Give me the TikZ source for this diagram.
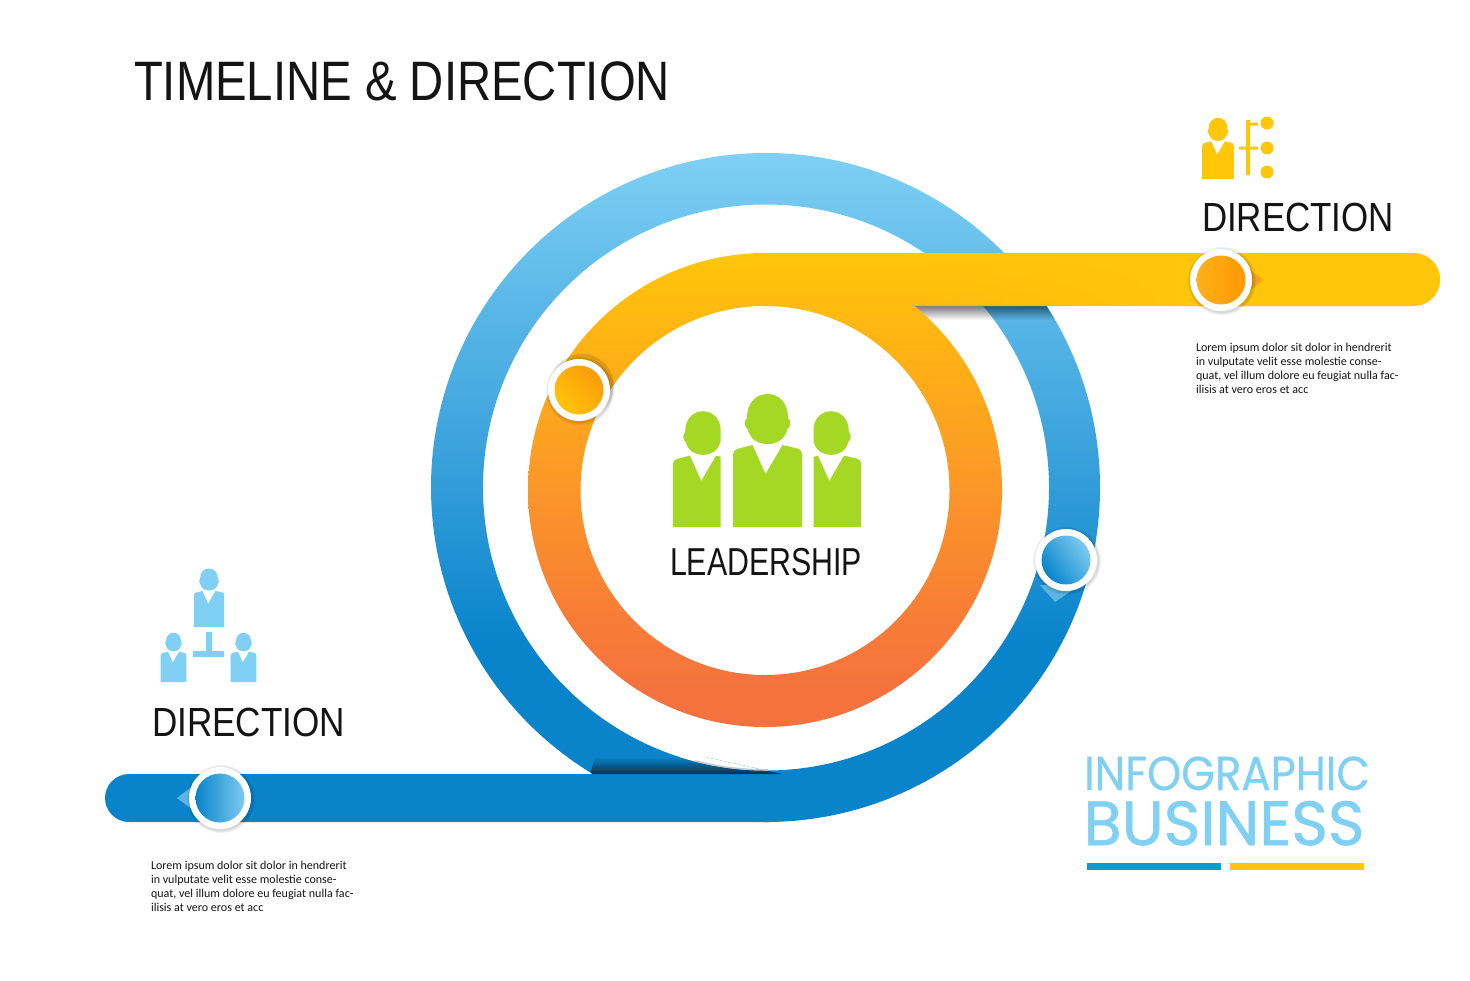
\documentclass[tikz,border=0pt]{standalone}
\usepackage{fontspec}
\usepackage{graphicx}
\usetikzlibrary{fadings}
\newfontfamily\headfont{Liberation Sans}
\newfontfamily\logofont[FakeBold=0.5]{Poppins}
\newfontfamily\logofontb[FakeBold=1]{Poppins}
\newfontfamily\bodyfont{Carlito}
\definecolor{cblue}{HTML}{0984CB}
\definecolor{clight}{HTML}{7FD0F3}
\definecolor{cyel}{HTML}{FFC60A}
\definecolor{cgreen}{HTML}{A4D824}
\definecolor{cnavy}{HTML}{02304F}
\definecolor{ctext}{HTML}{141414}
\definecolor{bb}{HTML}{3BA2DC}
\definecolor{bc}{HTML}{5BB8E8}
\definecolor{oa}{HTML}{F5723E}
\definecolor{ob}{HTML}{F88034}
\definecolor{oc}{HTML}{FB9629}
\definecolor{od}{HTML}{FFB214}
\definecolor{barlow}{HTML}{FFBB0F}
\definecolor{tipo}{HTML}{F8A01E}
\definecolor{tipb}{HTML}{5DB5E5}
\definecolor{mya}{HTML}{FFC30A}
\definecolor{myb}{HTML}{FB9C0A}
\definecolor{moa}{HTML}{FDB01B}
\definecolor{mob}{HTML}{FF9800}
\definecolor{mbl}{HTML}{7CCBF0}
\definecolor{mbm}{HTML}{2A98D8}
\definecolor{ubar}{HTML}{0C9BD9}
\pgfdeclareverticalshading{blueV}{100bp}{color(0bp)=(cblue); color(25bp)=(cblue); color(38.6bp)=(cblue); color(52.8bp)=(bb); color(64bp)=(bc); color(75bp)=(clight); color(100bp)=(clight)}
\pgfdeclareverticalshading{orangeV}{100bp}{color(0bp)=(oa); color(25bp)=(oa); color(29bp)=(oa); color(38.4bp)=(ob); color(50bp)=(oc); color(64.8bp)=(od); color(75bp)=(cyel); color(100bp)=(cyel)}
\tikzfading[name=fadeDown, top color=transparent!45, bottom color=transparent!100]
\tikzfading[name=fadeRight, left color=transparent!100, right color=transparent!0]
\tikzset{
  x=0.5pt, y=-0.5pt,
  txt/.style={inner sep=0pt, outer sep=0pt, anchor=base west, text=ctext},
  para/.style={inner sep=0pt, outer sep=0pt, anchor=north west, align=left, text=ctext,
     font=\bodyfont\fontsize{6.02pt}{7pt}\selectfont},
  ring/.style={circle, minimum size=31pt, inner sep=0pt, fill=white},
  core/.style={circle, minimum size=24.5pt, inner sep=0pt},
  person/.pic={
    \fill (-34.5,0) -- (-34.5,-72) .. controls (-34.5,-77) and (-31,-78) .. (-27,-79)
       -- (-15,-82) -- (-2,-53) -- (15,-82) -- (28,-79)
       .. controls (32,-78) and (34.5,-77) .. (34.5,-72) -- (34.5,0) -- cycle;
    \fill (-20.5,-109) .. controls (-20.5,-125) and (-11,-133) .. (0,-133)
       .. controls (11,-133) and (20.5,-125) .. (20.5,-109)
       .. controls (23.5,-107) and (23.5,-100) .. (20,-98)
       .. controls (17,-87) and (9,-83) .. (0,-83)
       .. controls (-9,-83) and (-17,-87) .. (-20,-98)
       .. controls (-23.5,-100) and (-23.5,-107) .. (-20.5,-109) -- cycle;
  }
}
\begin{document}
\begin{tikzpicture}
\useasboundingbox (0,0) rectangle (1470,980);
\fill[white] (0,0) rectangle (1470,980);

% blue ring and bar
\shade[shading=blueV, even odd rule] (765.5,487.5) circle[radius=334.5] (766,487.5) circle[radius=283];
\fill[cblue] (770,774) -- (129,774) arc[start angle=-90,end angle=-270,radius=24] -- (770,822) -- cycle;

% wedge shadow at the foot of the blue ring
\begin{scope}
  \clip (595,757) -- (705,757) -- (782,774) -- (590,774) -- cycle;
  \clip (765.5,487.5) circle[radius=334.5];
  \shade[top color=cblue, bottom color=cnavy] (580,757) rectangle (790,774);
  \fill[white] (766,487.5) circle[radius=283];
\end{scope}
\begin{scope}
  \clip (695,755) rectangle (768,775);
  \draw[color=black!22, line width=0.7pt] (766,487.5) circle[radius=282.3];
\end{scope}

% shadow under the yellow bar
\begin{scope}
  \clip (765.5,487.5) circle[radius=334.5];
  \fill[black, path fading=fadeDown] (912,305) rectangle (1060,320);
\end{scope}

% orange ring and yellow bar
\shade[shading=orangeV, even odd rule] (765,490) circle[radius=237] (765,490.5) circle[radius=184.5];
\shade[top color=cyel, bottom color=barlow] (765,253) -- (1413.5,253) arc[start angle=-90,end angle=90,radius=26.5] -- (765,306) -- cycle;
\fill[cyel, path fading=fadeRight] (930,253) rectangle (1180,306);
\fill[cyel] (1180,253) -- (1413.5,253) arc[start angle=-90,end angle=90,radius=26.5] -- (1180,306) -- cycle;

% marker tips
\fill[color=tipo] (1244,265) -- (1263,280) -- (1244,295) -- cycle;
\fill[color=tipb] (197,783) -- (177,798) -- (197,813) -- cycle;
\fill[color=tipb] (1040,585) -- (1055,602) -- (1080,585) -- cycle;

% marker soft shadows
\foreach \mx/\my in {579/390,1221/280,1066/560,220/798}{
  \foreach \rr in {34,33,32}{
    \fill[black, opacity=0.05] (\mx+1,\my+1) circle[radius=\rr];
  }
}
\fill[black, opacity=0.12] (582,386) circle[radius=32];

% markers
\node[ring] (m1) at (579,390) {};
\node[core, left color=mya, right color=myb, shading angle=135] (m1c) at (579,390) {};
\node[ring] (m2) at (1221,280) {};
\node[core, left color=moa, right color=mob] (m2c) at (1221,280) {};
\node[ring] (m3) at (1066,560) {};
\node[core, left color=cblue, middle color=cblue, right color=mbl, shading angle=125] (m3c) at (1066,560) {};
\node[ring] (m4) at (220,798) {};
\node[core, left color=cblue, middle color=mbm, right color=mbl] (m4c) at (220,798) {};

% green people
\pic[fill=cgreen, scale=1] at (767.5,527) {person};
\begin{scope}
  \clip (660,400) rectangle (720.5,530);
  \pic[fill=cgreen, scale=.87] at (703,527) {person};
\end{scope}
\begin{scope}
  \clip (813.5,400) rectangle (870,530);
  \pic[fill=cgreen, scale=.87] at (831,527) {person};
\end{scope}

% blue org icon
\pic[fill=clight, scale=.44] at (209,627) {person};
\pic[fill=clight, scale=.37] at (173.5,682) {person};
\pic[fill=clight, scale=.37] at (243.5,682) {person};
\fill[clight] (206,632) rectangle (212,651) (193,651) rectangle (224,657);

% yellow tree icon
\pic[fill=cyel, scale=.46] at (1218,179) {person};
\fill[cyel] (1246,120) rectangle (1250,175) (1250,122.5) rectangle (1258,125.5) (1239,146.5) rectangle (1258,149.5);
\fill[cyel] (1267,123) circle[radius=6.5] (1267,148) circle[radius=6.5] (1267,172) circle[radius=6.5];

% text
\node[txt] (title) at (134,100) {\resizebox{268pt}{19.4pt}{\headfont TIMELINE \& DIRECTION}};
\node[txt] (dirR) at (1202,231) {\resizebox{96pt}{14.2pt}{\headfont DIRECTION}};
\node[txt] (dirL) at (152,736) {\resizebox{96.5pt}{14.2pt}{\headfont DIRECTION}};
\node[txt] (lead) at (670,575) {\resizebox{96pt}{13.6pt}{\headfont LEADERSHIP}};
\node[para] (pR) at (1196,343) {Lorem ipsum dolor sit dolor in hendrerit\\in vulputate velit esse molestie conse-\\quat, vel illum dolore eu feugiat nulla fac-\\ilisis at vero eros et acc};
\node[para] (pL) at (151,861) {Lorem ipsum dolor sit dolor in hendrerit\\in vulputate velit esse molestie conse-\\quat, vel illum dolore eu feugiat nulla fac-\\ilisis at vero eros et acc};
\node[txt, text=clight] (info) at (1084,790) {\resizebox{143pt}{16.8pt}{\logofont INFOGRAPHIC}};
\node[txt, text=clight] (biz) at (1083.5,845) {\resizebox{140.5pt}{22pt}{\logofontb BUSINESS}};

% logo underlines
\fill[color=ubar] (1087,863) rectangle (1221,870);
\fill[cyel] (1230,863) rectangle (1364,870);
\end{tikzpicture}
\end{document}
